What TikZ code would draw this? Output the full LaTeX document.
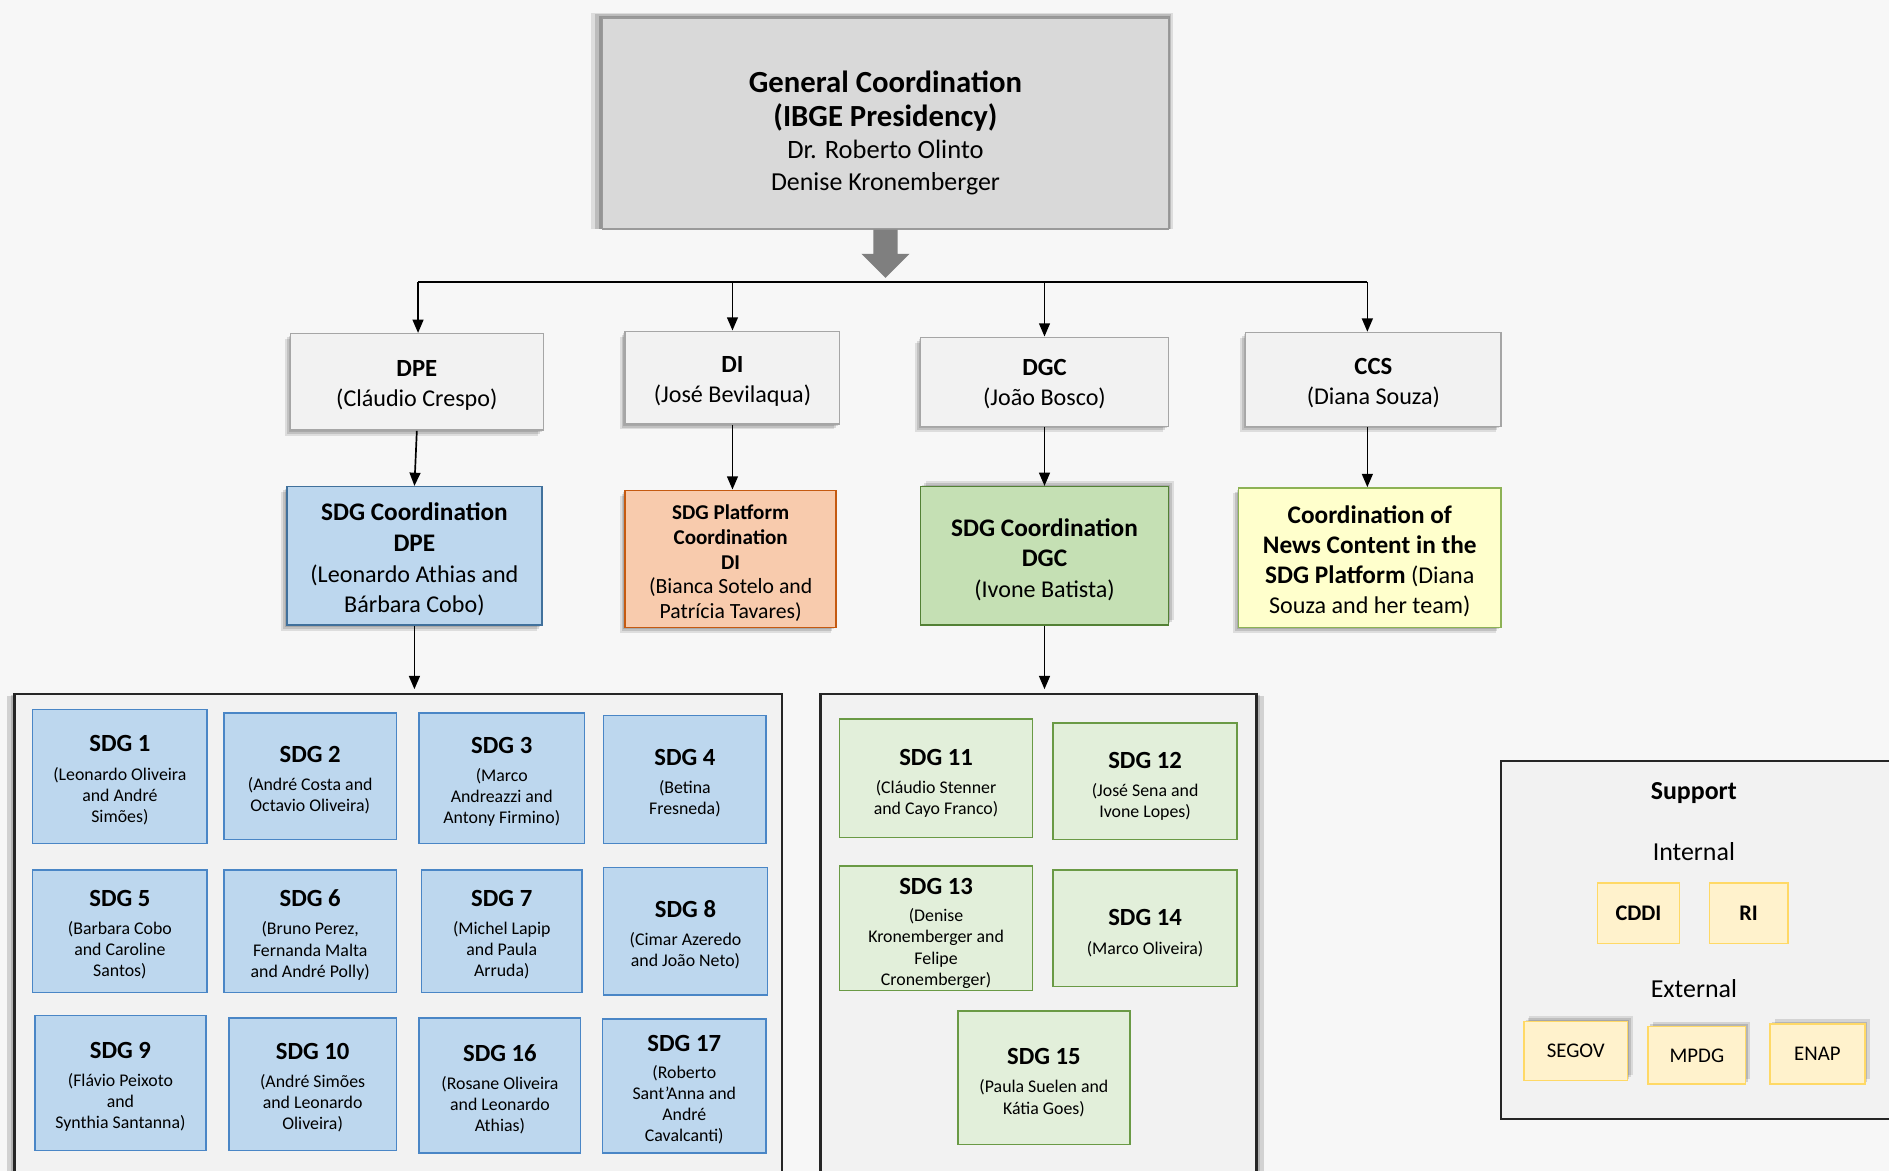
\documentclass[tikz,border=0pt]{standalone}
\usepackage{fontspec}
\setmainfont{Carlito}
\usetikzlibrary{arrows.meta,shadows}
\definecolor{bgc}{HTML}{F7F7F7}
\definecolor{topfill}{HTML}{D9D9D9}
\definecolor{topdraw}{HTML}{9A9A9A}
\definecolor{lvfill}{HTML}{F2F2F2}
\definecolor{lvdraw}{HTML}{A6A6A6}
\definecolor{bluefill}{HTML}{BDD7EE}
\definecolor{bluedraw}{HTML}{41719C}
\definecolor{sdgbdraw}{HTML}{4A86C6}
\definecolor{orfill}{HTML}{F8CBAD}
\definecolor{ordraw}{HTML}{C55A11}
\definecolor{grfill}{HTML}{C5E0B4}
\definecolor{grdraw}{HTML}{538135}
\definecolor{yefill}{HTML}{FFFFCC}
\definecolor{yedraw}{HTML}{8DB255}
\definecolor{lgfill}{HTML}{E2EFDA}
\definecolor{lgdraw}{HTML}{6A9A45}
\definecolor{spfill}{HTML}{FFF2CC}
\definecolor{spdraw}{HTML}{FFD966}
\definecolor{contfill}{HTML}{F2F2F2}
\definecolor{contdraw}{HTML}{262626}
\definecolor{bigarrow}{HTML}{7F7F7F}
\newcommand\myfs[2]{\fontsize{#1}{#2}\selectfont}
\begin{document}
\begin{tikzpicture}[x=1pt,y=-1pt,
  box/.style={rectangle, draw, line width=1.3pt, inner sep=0pt},
  txt/.style={inner sep=0pt, align=center},
  shad/.style={drop shadow={shadow xshift=-1.5pt, shadow yshift=-1.5pt, opacity=0.12, fill=black},
               drop shadow={shadow xshift=-3pt, shadow yshift=-3pt, opacity=0.12, fill=black},
               drop shadow={shadow xshift=-4.5pt, shadow yshift=-4.5pt, opacity=0.1, fill=black}},
  shadr/.style={drop shadow={shadow xshift=1.5pt, shadow yshift=1.5pt, opacity=0.12, fill=black},
               drop shadow={shadow xshift=3pt, shadow yshift=3pt, opacity=0.12, fill=black},
               drop shadow={shadow xshift=4.5pt, shadow yshift=4.5pt, opacity=0.1, fill=black}},
  topshad/.style={drop shadow={shadow scale=1.008, shadow xshift=-1pt, shadow yshift=1pt, opacity=0.2, fill=black},
                  drop shadow={shadow scale=1.018, shadow xshift=-2pt, shadow yshift=1.5pt, opacity=0.15, fill=black},
                  drop shadow={shadow scale=1.028, shadow xshift=-2.5pt, shadow yshift=2pt, opacity=0.1, fill=black}},
  lvbox/.style={box, fill=lvfill, draw=lvdraw, shad},
  lvtxt/.style={txt, font=\myfs{20}{25}},
  sdgb/.style={box, fill=bluefill, draw=sdgbdraw},
  sdgg/.style={box, fill=lgfill, draw=lgdraw},
  sdgtxt/.style={txt, font=\myfs{14.8}{17.5}},
  spbox/.style={box, fill=spfill, draw=spdraw, font=\myfs{17.3}{20}},
  contbox/.style={rectangle, draw=contdraw, fill=contfill, line width=1.8pt, inner sep=0pt},
  conn/.style={line width=1.4pt, draw=black},
  arr/.style={conn, -{Triangle[width=9pt,length=11pt]}},
  lbl/.style={inner sep=0pt, anchor=base}
]
\useasboundingbox[fill=bgc] (0,0) rectangle (1568,972);
\newcommand\ttl[1]{{\myfs{20.5}{17.5}\bfseries #1}}

% top box
\node[box, fill=topfill, draw=topdraw, topshad, minimum width=470pt, minimum height=175pt] (gc) at (735,102.5) {};
\node[txt, font=\myfs{21.5}{26.5}] (gct) at ([yshift=-8pt]gc.center)
  {{\myfs{25.5}{26.5}\bfseries General Coordination}\\[2pt]{\myfs{25.5}{26.5}\bfseries (IBGE Presidency)}\\{\myfs{22}{26.5}Dr. Roberto Olinto}\\Denise Kronemberger};

% big gray arrow
\fill[bigarrow] ([xshift=-10pt]gc.south) -- ([xshift=10pt]gc.south) -- ([xshift=10pt,yshift=-20pt]gc.south)
  -- ([xshift=20pt,yshift=-20pt]gc.south) -- ([yshift=-40pt]gc.south) -- ([xshift=-20pt,yshift=-20pt]gc.south)
  -- ([xshift=-10pt,yshift=-20pt]gc.south) -- cycle;

% level 2
\node[lvbox, minimum width=210pt, minimum height=80pt] (dpe) at (346,317) {};
\node[lvtxt] (dpet) at ([yshift=-3pt]dpe.center) {{\myfs{20.5}{25}\bfseries DPE}\\(Cláudio Crespo)};
\node[lvbox, minimum width=178pt, minimum height=77pt] (di) at (608,313.5) {};
\node[lvtxt] (dit) at ([yshift=-3pt]di.center) {{\myfs{20.5}{25}\bfseries DI}\\(José Bevilaqua)};
\node[lvbox, minimum width=206pt, minimum height=74pt] (dgc) at (867,317) {};
\node[lvtxt] (dgct) at ([yshift=-2pt]dgc.center) {{\myfs{20.5}{25}\bfseries DGC}\\(João Bosco)};
\node[lvbox, minimum width=212pt, minimum height=78pt] (ccs) at (1140,315) {};
\node[lvtxt] (ccst) at ([yshift=-3pt]ccs.center) {{\myfs{20.5}{25}\bfseries CCS}\\(Diana Souza)};

% bus
\coordinate (busL) at (347,234);
\coordinate (busR) at (1135,234);
\draw[conn] (busL) -- (busR);
\draw[arr] (busL) -- (busL |- dpe.north);
\draw[arr] (di.north |- busL) -- (di.north);
\draw[arr] (dgc.north |- busL) -- (dgc.north);
\draw[arr] (busR) -- (busR |- ccs.north);

% level 3
\node[box, fill=bluefill, draw=bluedraw, shad, minimum width=212pt, minimum height=115pt] (cdpe) at (344,461.5) {};
\node[txt, font=\myfs{20}{25.5}] (cdpet) at ([yshift=-3pt]cdpe.center)
  {{\myfs{21}{25.5}\bfseries SDG Coordination}\\{\myfs{21}{25.5}\bfseries DPE}\\(Leonardo Athias and\\Bárbara Cobo)};
\node[box, fill=orfill, draw=ordraw, shad, minimum width=175pt, minimum height=114pt] (cdi) at (606.5,464) {};
\node[txt, font=\myfs{18}{20.5}] (cdit) at ([yshift=-3.5pt]cdi.center)
  {{\myfs{17.5}{20.5}\bfseries SDG Platform}\\{\myfs{17.5}{20.5}\bfseries Coordination}\\{\myfs{17.5}{20.5}\bfseries DI}\\(Bianca Sotelo and\\Patrícia Tavares)};
\node[box, fill=grfill, draw=grdraw, shadr, minimum width=206pt, minimum height=115pt] (cdgc) at (867,461.5) {};
\node[txt, font=\myfs{20}{25.5}] (cdgct) at ([yshift=-3pt]cdgc.center)
  {{\myfs{21}{25.5}\bfseries SDG Coordination}\\{\myfs{21}{25.5}\bfseries DGC}\\(Ivone Batista)};
\node[box, fill=yefill, draw=yedraw, shad, minimum width=218pt, minimum height=116pt] (news) at (1137,463) {};
\node[txt, font=\myfs{20}{25}] (newst) at ([yshift=-3pt]news.center)
  {{\myfs{21}{25}\bfseries Coordination of}\\{\myfs{21}{25}\bfseries News Content in the}\\{\myfs{21}{25}\bfseries SDG Platform} (Diana\\Souza and her team)};

\draw[arr] (dpe.south) -- (cdpe.north);
\draw[arr] (di.south) -- (di.south |- cdi.north);
\draw[arr] (dgc.south) -- (cdgc.north);
\draw[arr] (ccs.south -| busR) -- (busR |- news.north);

% containers
\node[contbox, drop shadow={shadow xshift=-3pt, shadow yshift=-1pt, opacity=0.15, fill=black},
  drop shadow={shadow xshift=-6pt, shadow yshift=-2pt, opacity=0.15, fill=black}, minimum width=637pt, minimum height=414pt] (contL) at (330.5,783) {};
\node[contbox, drop shadow={shadow xshift=3pt, shadow yshift=-1pt, opacity=0.15, fill=black},
  drop shadow={shadow xshift=6pt, shadow yshift=-2pt, opacity=0.15, fill=black}, minimum width=362pt, minimum height=414pt] (contM) at (862,783) {};
\node[contbox, minimum width=329pt, minimum height=297pt] (supp) at (1410.5,780.5) {};

\draw[arr, shorten >=3pt] (cdpe.south) -- (cdpe.south |- contL.north);
\draw[arr, shorten >=3pt] (cdgc.south) -- (cdgc.south |- contM.north);

% blue SDG boxes
\node[sdgb, minimum width=145pt, minimum height=111pt] (s1) at (99.5,644.5) {};
\node[sdgtxt] (s1t) at ([yshift=-3pt]s1.center) {\ttl{SDG 1}\\[6pt](Leonardo Oliveira\\and André\\Simões)};
\node[sdgb, minimum width=143pt, minimum height=105pt] (s2) at (257.5,644.5) {};
\node[sdgtxt] (s2t) at ([yshift=-3pt]s2.center) {\ttl{SDG 2}\\[6pt](André Costa and\\Octavio Oliveira)};
\node[sdgb, minimum width=137pt, minimum height=108pt] (s3) at (416.5,646) {};
\node[sdgtxt] (s3t) at ([yshift=-3pt]s3.center) {\ttl{SDG 3}\\[6pt](Marco\\Andreazzi and\\Antony Firmino)};
\node[sdgb, minimum width=135pt, minimum height=106pt] (s4) at (568.5,647) {};
\node[sdgtxt] (s4t) at ([yshift=-3pt]s4.center) {\ttl{SDG 4}\\[6pt](Betina\\Fresneda)};
\node[sdgb, minimum width=145pt, minimum height=102pt] (s5) at (99.5,773) {};
\node[sdgtxt] (s5t) at ([yshift=-3pt]s5.center) {\ttl{SDG 5}\\[6pt](Barbara Cobo\\and Caroline\\Santos)};
\node[sdgb, minimum width=143pt, minimum height=102pt] (s6) at (257.5,773) {};
\node[sdgtxt] (s6t) at ([yshift=-3pt]s6.center) {\ttl{SDG 6}\\[6pt](Bruno Perez,\\Fernanda Malta\\and André Polly)};
\node[sdgb, minimum width=133pt, minimum height=102pt] (s7) at (416.5,773) {};
\node[sdgtxt] (s7t) at ([yshift=-3pt]s7.center) {\ttl{SDG 7}\\[6pt](Michel Lapip\\and Paula\\Arruda)};
\node[sdgb, minimum width=136pt, minimum height=106pt] (s8) at (569,773) {};
\node[sdgtxt] (s8t) at ([yshift=-3pt]s8.center) {\ttl{SDG 8}\\[6pt](Cimar Azeredo\\and João Neto)};
\node[sdgb, minimum width=142pt, minimum height=112pt] (s9) at (100,899) {};
\node[sdgtxt] (s9t) at ([yshift=-3pt]s9.center) {\ttl{SDG 9}\\[6pt](Flávio Peixoto\\and\\Synthia Santanna)};
\node[sdgb, minimum width=139pt, minimum height=110pt] (s10) at (259.5,900) {};
\node[sdgtxt] (s10t) at ([yshift=-3pt]s10.center) {\ttl{SDG 10}\\[6pt](André Simões\\and Leonardo\\Oliveira)};
\node[sdgb, minimum width=134pt, minimum height=112pt] (s16) at (415,901) {};
\node[sdgtxt] (s16t) at ([yshift=-3pt]s16.center) {\ttl{SDG 16}\\[6pt](Rosane Oliveira\\and Leonardo\\Athias)};
\node[sdgb, minimum width=136pt, minimum height=111pt] (s17) at (568,901.5) {};
\node[sdgtxt] (s17t) at ([yshift=-3pt]s17.center) {\ttl{SDG 17}\\[4.5pt](Roberto\\Sant’Anna and\\André\\Cavalcanti)};

% green SDG boxes
\node[sdgg, minimum width=160pt, minimum height=98pt] (s11) at (777,646) {};
\node[sdgtxt] (s11t) at ([yshift=-4pt]s11.center) {\ttl{SDG 11}\\[6pt](Cláudio Stenner\\and Cayo Franco)};
\node[sdgg, minimum width=153pt, minimum height=97pt] (s12) at (950.5,648.5) {};
\node[sdgtxt] (s12t) at ([yshift=-4pt]s12.center) {\ttl{SDG 12}\\[6pt](José Sena and\\Ivone Lopes)};
\node[sdgg, minimum width=160pt, minimum height=103pt] (s13) at (777,770.5) {};
\node[sdgtxt] (s13t) at ([yshift=-4pt]s13.center) {\ttl{SDG 13}\\[5.5pt](Denise\\Kronemberger and\\Felipe\\Cronemberger)};
\node[sdgg, minimum width=153pt, minimum height=97pt] (s14) at (950.5,770.5) {};
\node[sdgtxt] (s14t) at ([yshift=-4pt]s14.center) {\ttl{SDG 14}\\[6pt](Marco Oliveira)};
\node[sdgg, minimum width=143pt, minimum height=111pt] (s15) at (866.5,894.5) {};
\node[sdgtxt] (s15t) at ([yshift=-4pt]s15.center) {\ttl{SDG 15}\\[6pt](Paula Suelen and\\Kátia Goes)};

% support
\node[lbl, font=\myfs{21.5}{24}\bfseries] (suptitle) at (1406,664) {Support};
\node[lbl, font=\myfs{21.5}{24}] (internal) at (1406,714) {Internal};
\node[lbl, font=\myfs{21.5}{24}] (external) at (1406,828) {External};
\node[spbox, minimum width=68pt, minimum height=50pt, font=\myfs{18.5}{20}\bfseries] (cddi) at (1360,758) {CDDI};
\node[spbox, minimum width=65pt, minimum height=50pt, font=\myfs{18.5}{20}\bfseries] (ri) at (1451.5,758) {RI};
\node[spbox, shadr, minimum width=86pt, minimum height=49pt] (segov) at (1308,872.5) {SEGOV};
\node[spbox, drop shadow={shadow xshift=2pt, shadow yshift=2pt, opacity=0.14, fill=black},
  drop shadow={shadow xshift=4pt, shadow yshift=4pt, opacity=0.12, fill=black}, minimum width=81pt, minimum height=48pt] (mpdg) at (1408.5,876) {MPDG};
\node[spbox, drop shadow={shadow xshift=2pt, shadow yshift=2pt, opacity=0.14, fill=black},
  drop shadow={shadow xshift=4pt, shadow yshift=4pt, opacity=0.12, fill=black}, minimum width=79pt, minimum height=50pt] (enap) at (1508.5,875) {ENAP};
\end{tikzpicture}
\end{document}
